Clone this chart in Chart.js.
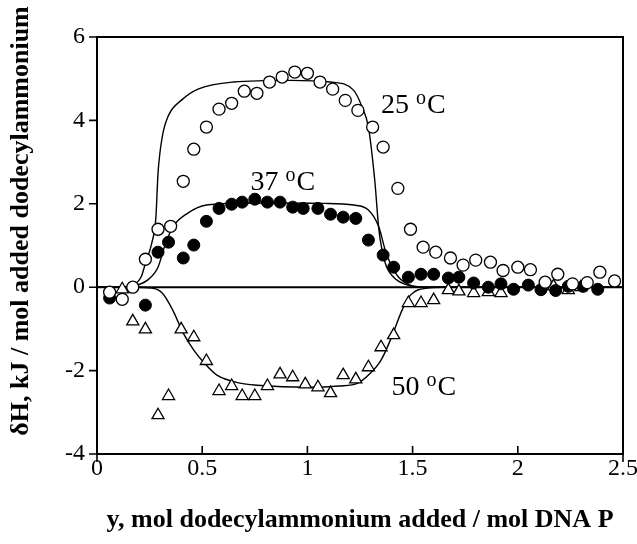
<!DOCTYPE html>
<html>
<head>
<meta charset="utf-8">
<script src="https://cdn.jsdelivr.net/npm/chart.js@4/dist/chart.umd.min.js"></script>
<style>
  html, body { margin: 0; padding: 0; background: #fff; }
  #wrap { width: 637px; height: 544px; position: relative; }
</style>
</head>
<body>
<div id="wrap"><canvas id="c"></canvas></div>
<script>
'use strict'

// measured points, 25 C (open circles)
const x25 = [0.06, 0.12, 0.17, 0.23, 0.29, 0.35, 0.41, 0.46, 0.52, 0.58, 0.64, 0.70, 0.76, 0.82, 0.88, 0.94, 1.00, 1.06, 1.12, 1.18,
             1.24, 1.31, 1.36, 1.43, 1.49, 1.55, 1.61, 1.68, 1.74, 1.80, 1.87, 1.93, 2.00, 2.06, 2.13, 2.19, 2.26, 2.33, 2.39, 2.46]
const y25 = [-0.12, -0.29, 0.0, 0.67, 1.39, 1.46, 2.54, 3.31, 3.84, 4.27, 4.41, 4.70, 4.65, 4.92, 5.04, 5.16, 5.13, 4.92, 4.75, 4.48,
             4.24, 3.84, 3.36, 2.37, 1.39, 0.96, 0.84, 0.70, 0.53, 0.65, 0.60, 0.40, 0.48, 0.42, 0.12, 0.31, 0.08, 0.11, 0.36, 0.15]

// 37 C (filled circles)
const x37 = [0.06, 0.23, 0.29, 0.34, 0.41, 0.46, 0.52, 0.58, 0.64, 0.69, 0.75, 0.81, 0.87, 0.93, 0.98, 1.05, 1.11, 1.17, 1.23, 1.29,
             1.36, 1.41, 1.48, 1.54, 1.60, 1.67, 1.72, 1.79, 1.86, 1.92, 1.98, 2.05, 2.11, 2.18, 2.24, 2.31, 2.38]
const y37 = [-0.26, -0.43, 0.84, 1.08, 0.70, 1.01, 1.58, 1.89, 1.99, 2.04, 2.11, 2.04, 2.04, 1.92, 1.89, 1.89, 1.75, 1.68, 1.65, 1.13,
             0.77, 0.48, 0.24, 0.31, 0.31, 0.22, 0.24, 0.10, 0.0, 0.08, -0.05, 0.05, -0.06, -0.08, 0.02, 0.02, -0.05]

// 50 C (open triangles)
const x50 = [0.12, 0.17, 0.23, 0.29, 0.34, 0.40, 0.46, 0.52, 0.58, 0.64, 0.69, 0.75, 0.81, 0.87, 0.93, 0.99, 1.05, 1.11, 1.17, 1.23,
             1.29, 1.35, 1.41, 1.48, 1.54, 1.60, 1.67, 1.72, 1.79, 1.86, 1.92, 2.17, 2.24, 2.30]
const y50 = [-0.05, -0.82, -1.01, -3.07, -2.61, -1.01, -1.20, -1.77, -2.49, -2.37, -2.61, -2.61, -2.37, -2.09, -2.16, -2.33, -2.40, -2.54, -2.11, -2.21,
             -1.92, -1.44, -1.15, -0.38, -0.38, -0.31, -0.07, -0.10, -0.14, -0.12, -0.14, 0.02, -0.07, 0.0]

// model curves
const fit25X = [0, 0.10, 0.17, 0.21, 0.23, 0.26, 0.28, 0.29, 0.31, 0.34, 0.40, 0.48, 0.65, 0.92, 1.11, 1.22, 1.26, 1.29, 1.32, 1.34, 1.37, 1.41, 1.46, 1.55, 2.5]
const fit25Y = [0, 0, 0.05, 0.25, 0.57, 1.05, 1.68, 2.73, 3.60, 4.12, 4.48, 4.75, 4.92, 4.96, 4.92, 4.72, 4.32, 3.84, 2.57, 1.37, 0.58, 0.24, 0.08, 0, 0]
const fit37X = [0, 0.10, 0.17, 0.24, 0.29, 0.32, 0.36, 0.43, 0.52, 0.76, 1.08, 1.22, 1.29, 1.34, 1.37, 1.41, 1.46, 1.55, 2.5]
const fit37Y = [0, 0, 0.03, 0.17, 0.48, 0.96, 1.44, 1.77, 1.97, 2.02, 2.01, 1.97, 1.85, 1.44, 0.89, 0.41, 0.12, 0, 0]
const fit50X = [0, 0.10, 0.17, 0.26, 0.31, 0.36, 0.41, 0.46, 0.51, 0.57, 0.68, 0.76, 1.00, 1.15, 1.24, 1.30, 1.35, 1.40, 1.45, 1.49, 1.57, 1.64, 2.5]
const fit50Y = [0, 0, 0, -0.02, -0.14, -0.55, -1.10, -1.51, -1.82, -2.11, -2.30, -2.35, -2.40, -2.37, -2.30, -2.06, -1.75, -1.20, -0.55, -0.19, -0.02, 0, 0]

const zeroX = [0, 2.5]
const zeroY = [0, 0]

// curve labels, anchored in data units (left end, baseline)
const labelText = ['25', '37', '50']
const labelX = [1.35, 0.73, 1.40]
const labelY = [4.17, 2.33, -2.59]

const xTicks = [0, 0.5, 1, 1.5, 2, 2.5]
const yTicks = [-4, -2, 0, 2, 4, 6]

const SERIF = '"Liberation Serif", "Times New Roman", serif'

const pts = (xs, ys) => xs.map((x, i) => ({ x: x, y: ys[i] }))

let lineSet = (xs, ys, w) => ({
    data: pts(xs, ys),
    showLine: true,
    borderColor: '#000',
    borderWidth: w,
    pointRadius: 0,
    cubicInterpolationMode: 'monotone',
    order: 2
})

let frame = {
    id: 'frame',
    afterDatasetsDraw(chart) {
        const ctx = chart.ctx
        const a = chart.chartArea
        const xs = chart.scales.x
        const ys = chart.scales.y
        ctx.save()
        ctx.strokeStyle = '#000'
        ctx.lineWidth = 2
        ctx.strokeRect(a.left, a.top, a.right - a.left, a.bottom - a.top)

        ctx.lineWidth = 1.6
        ctx.beginPath()
        yTicks.forEach(v => {
            let py = ys.getPixelForValue(v)
            ctx.moveTo(a.left - 8, py)
            ctx.lineTo(a.left, py)
        })
        xTicks.forEach((v, i) => {
            let px = xs.getPixelForValue(v)
            ctx.moveTo(px, a.bottom - 8)
            ctx.lineTo(px, a.bottom)
            if (i == 0 || i == xTicks.length - 1) {
                ctx.moveTo(px, a.bottom)
                ctx.lineTo(px, a.bottom + 8)
            }
        })
        ctx.stroke()

        // curve labels: "25 °C" with a raised small o
        ctx.fillStyle = '#000'
        ctx.textBaseline = 'alphabetic'
        ctx.textAlign = 'left'
        labelText.forEach((t, i) => {
            let px = xs.getPixelForValue(labelX[i])
            let py = ys.getPixelForValue(labelY[i])
            ctx.font = '28px ' + SERIF
            let w1 = ctx.measureText(t + ' ').width
            ctx.fillText(t + ' ', px, py)
            ctx.font = '20px ' + SERIF
            let w2 = ctx.measureText('o').width
            ctx.fillText('o', px + w1, py - 9)
            ctx.font = '28px ' + SERIF
            ctx.fillText('C', px + w1 + w2 + 1, py)
        })

        // y axis title
        ctx.font = 'bold 26px ' + SERIF
        ctx.textAlign = 'center'
        ctx.textBaseline = 'middle'
        ctx.translate(21, 221)
        ctx.rotate(-Math.PI / 2)
        ctx.fillText('δH, kJ / mol added dodecylammonium', 0, 0)
        ctx.restore()
    }
}

const config = {
    type: 'scatter',
    data: {
        datasets: [
            {
                data: pts(x25, y25),
                pointStyle: 'circle',
                pointRadius: 6,
                pointBorderWidth: 1.3,
                borderColor: '#000',
                backgroundColor: '#fff',
                order: 0
            },
            {
                data: pts(x37, y37),
                pointStyle: 'circle',
                pointRadius: 6,
                pointBorderWidth: 1,
                borderColor: '#000',
                backgroundColor: '#000',
                order: 0
            },
            {
                data: pts(x50, y50),
                pointStyle: 'triangle',
                pointRadius: 7,
                pointBorderWidth: 1.3,
                borderColor: '#000',
                backgroundColor: '#fff',
                order: 0
            },
            lineSet(fit25X, fit25Y, 1.4),
            lineSet(fit37X, fit37Y, 1.4),
            lineSet(fit50X, fit50Y, 1.4),
            lineSet(zeroX, zeroY, 2)
        ]
    },
    options: {
        responsive: true,
        maintainAspectRatio: false,
        animation: false,
        layout: { padding: { top: 37, right: 14, left: 0, bottom: 0 } },
        scales: {
            x: {
                type: 'linear',
                min: 0,
                max: 2.5,
                afterFit: s => { s.height = 90; s.paddingLeft = 0; s.paddingRight = 0 },
                afterBuildTicks: s => { s.ticks = xTicks.map(v => ({ value: v })) },
                grid: { display: false, drawTicks: false },
                border: { display: false },
                ticks: {
                    padding: 0,
                    color: '#000',
                    font: { family: SERIF, size: 24 },
                    callback: v => String(v)
                },
                title: {
                    display: true,
                    text: 'y, mol dodecylammonium added / mol DNA P',
                    color: '#000',
                    font: { family: SERIF, size: 26, weight: 'bold' },
                    padding: { top: 0, bottom: 8 }
                }
            },
            y: {
                type: 'linear',
                min: -4,
                max: 6,
                afterFit: s => { s.width = 97; s.paddingTop = 0; s.paddingBottom = 0 },
                afterBuildTicks: s => { s.ticks = yTicks.map(v => ({ value: v })) },
                grid: { display: false, drawTicks: false },
                border: { display: false },
                ticks: {
                    padding: 12,
                    color: '#000',
                    font: { family: SERIF, size: 24 },
                    callback: v => String(v)
                }
            }
        },
        plugins: {
            legend: { display: false },
            title: { display: false },
            tooltip: { enabled: false }
        }
    },
    plugins: [frame]
}

let myChart = new Chart(document.getElementById('c').getContext('2d'), config)
</script>
</body>
</html>
